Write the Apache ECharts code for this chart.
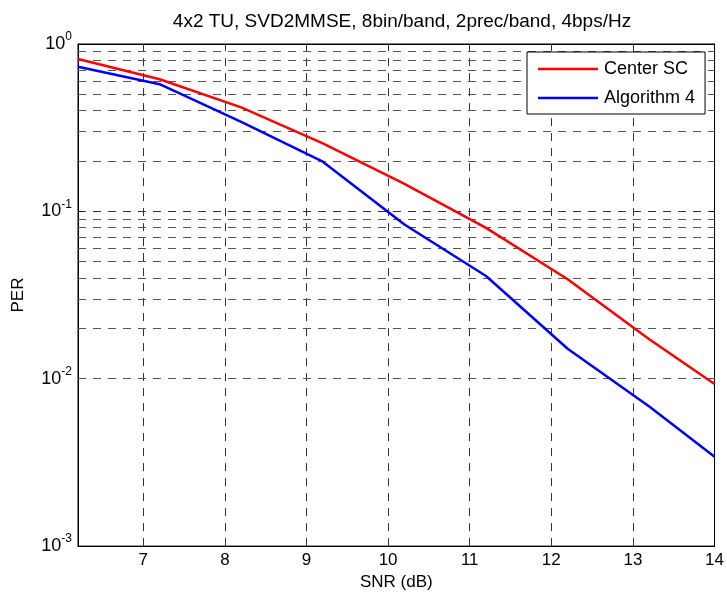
<!DOCTYPE html>
<html>
<head>
<meta charset="utf-8">
<script src="https://cdn.jsdelivr.net/npm/echarts@6/dist/echarts.min.js"></script>
<style>html,body{margin:0;padding:0;background:#fff;}#c{width:727px;height:596px;}</style>
</head>
<body>
<div id="c"></div>
<script>
const titleText = '4x2 TU, SVD2MMSE, 8bin/band, 2prec/band, 4bps/Hz';
const snr = [6.2, 7.2, 8.2, 9.2, 10.2, 11.2, 12.2, 13.2, 14.0];
const centerSC = [0.814, 0.616, 0.418, 0.255, 0.146, 0.0797, 0.0393, 0.0172, 0.0093];
const algorithm4 = [0.732, 0.575, 0.343, 0.198, 0.0834, 0.0411, 0.0151, 0.00682, 0.00342];
const xTicks = [7, 8, 9, 10, 11, 12, 13, 14];
const xGrid = [7, 8, 9, 10, 11, 12, 13];
const yMinorGrid = [0.2,0.3,0.4,0.5,0.6,0.7,0.8,0.9,
  0.02,0.03,0.04,0.05,0.06,0.07,0.08,0.09,
  0.002,0.003,0.004,0.005,0.006,0.007,0.008,0.009];

const font = 'Liberation Sans, Arial, sans-serif';
const dash = [8, 7];

const chart = echarts.init(document.getElementById('c'), null, {renderer: 'canvas'});

const gridMarks = [];
xGrid.forEach(v => gridMarks.push({xAxis: v, lineStyle: {color: '#333', type: dash, width: 1}}));
yMinorGrid.forEach(v => gridMarks.push({yAxis: v, lineStyle: {color: '#555', type: dash, width: 1}}));

function expLabel(v) {
  const e = Math.round(Math.log10(v));
  return '{b|10}{s|' + e + '}';
}

chart.setOption({
  animation: false,
  backgroundColor: '#fff',
  title: {
    text: titleText, left: 397, top: 7, textAlign: 'center',
    textStyle: {fontFamily: font, fontSize: 19, fontWeight: 'normal', color: '#000'}
  },
  grid: {left: 78, right: 10, top: 44, bottom: 48, show: true, borderColor: '#000', borderWidth: 1, backgroundColor: '#fff'},
  legend: {
    left: 527, top: 52, orient: 'vertical', icon: 'rect',
    backgroundColor: '#fff', borderColor: '#000', borderWidth: 1,
    padding: [8, 10, 7, 11], itemWidth: 60, itemHeight: 2.5, itemGap: 11,
    textStyle: {fontFamily: font, fontSize: 18, lineHeight: 18, color: '#000', padding: [0, 0, 0, 1]},
    data: ['Center SC', 'Algorithm 4']
  },
  xAxis: [{
    type: 'value', min: 6.2, max: 14,
    name: 'SNR (dB)', nameLocation: 'middle', nameGap: 27,
    nameTextStyle: {fontFamily: font, fontSize: 17, color: '#000'},
    axisLine: {show: true, onZero: false, lineStyle: {color: '#000'}},
    axisTick: {show: true, inside: true, length: 5, customValues: xTicks, lineStyle: {color: '#000'}},
    axisLabel: {customValues: xTicks, fontFamily: font, fontSize: 17, color: '#000', margin: 6},
    splitLine: {show: false}
  }, {
    type: 'value', min: 6.2, max: 14, position: 'top',
    axisLine: {show: true, onZero: false, lineStyle: {color: '#000'}},
    axisTick: {show: true, inside: true, length: 5, customValues: xTicks, lineStyle: {color: '#000'}},
    axisLabel: {show: false},
    splitLine: {show: false}
  }],
  yAxis: [{
    type: 'log', logBase: 10, min: 0.001, max: 1,
    name: 'PER', nameLocation: 'middle', nameGap: 51, nameRotate: 90,
    nameTextStyle: {fontFamily: font, fontSize: 17, color: '#000'},
    axisLine: {show: true, onZero: false, lineStyle: {color: '#000'}},
    axisTick: {show: true, inside: true, length: 5, lineStyle: {color: '#000'}},
    axisLabel: {
      formatter: expLabel, margin: 6,
      rich: {
        b: {fontFamily: font, fontSize: 18, color: '#000'},
        s: {fontFamily: font, fontSize: 12, color: '#000', padding: [0, 0, 14, 0]}
      }
    },
    splitLine: {show: true, lineStyle: {color: '#333', type: dash, width: 1}}
  }, {
    type: 'log', logBase: 10, min: 0.001, max: 1, position: 'right',
    axisLine: {show: true, onZero: false, lineStyle: {color: '#000'}},
    axisTick: {show: true, inside: true, length: 5, lineStyle: {color: '#000'}},
    axisLabel: {show: false},
    splitLine: {show: false}
  }],
  series: [{
    name: 'Center SC', type: 'line', symbol: 'none', z: 3,
    data: snr.map((x, i) => [x, centerSC[i]]),
    lineStyle: {color: '#ff0000', width: 2.5}, itemStyle: {color: '#ff0000'},
    markLine: {silent: true, symbol: ['none', 'none'], label: {show: false}, z: 1, animation: false, data: gridMarks}
  }, {
    name: 'Algorithm 4', type: 'line', symbol: 'none', z: 4,
    data: snr.map((x, i) => [x, algorithm4[i]]),
    lineStyle: {color: '#0000ff', width: 2.5}, itemStyle: {color: '#0000ff'}
  }]
});
</script>
</body>
</html>
